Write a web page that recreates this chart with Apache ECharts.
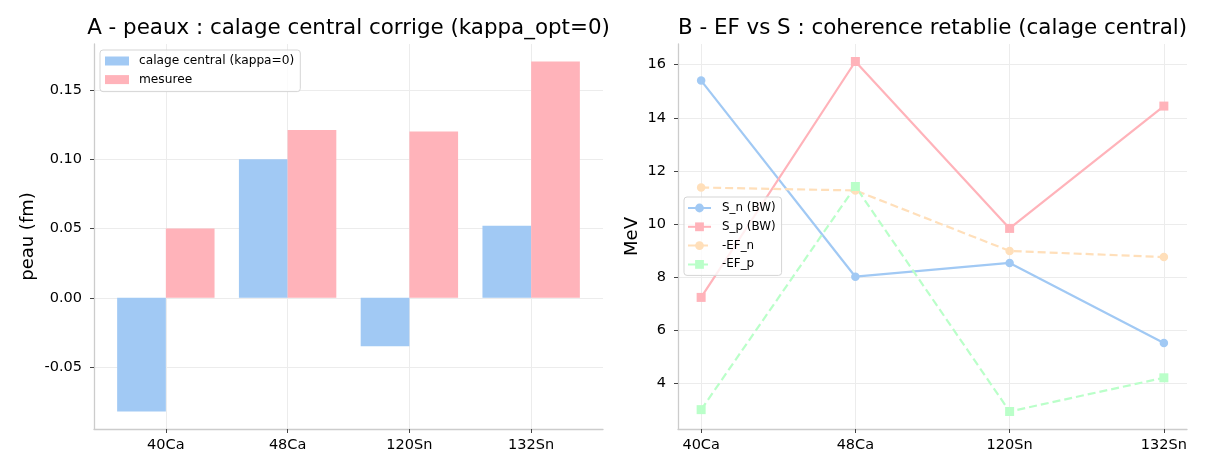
<!DOCTYPE html>
<html>
<head>
<meta charset="utf-8">
<script src="https://cdn.jsdelivr.net/npm/echarts@6/dist/echarts.min.js"></script>
<style>
  html, body { margin: 0; padding: 0; background: #fff; }
  #chart { width: 1210px; height: 473px; }
</style>
</head>
<body>
<div id="chart"></div>
<script>
// noyaux
var noyaux = ['40Ca', '48Ca', '120Sn', '132Sn'];
// A - peaux (fm)
var peauCalage = [-0.082, 0.100, -0.035, 0.052];
var peauMesuree = [0.050, 0.121, 0.120, 0.1705];
// B - energies (MeV)
var sN = [15.40, 8.01, 8.53, 5.51];
var sP = [7.23, 16.12, 9.83, 14.44];
var efN = [11.37, 11.26, 8.98, 8.75];
var efP = [3.00, 11.41, 2.93, 4.20];
// ticks
var ticksX = [0, 1, 2, 3];
var ticksPeau = [-0.05, 0, 0.05, 0.10, 0.15];
var ticksMeV = [4, 6, 8, 10, 12, 14, 16];

var FONT = 'DejaVu Sans';
var bleu = '#a1c9f4', rose = '#ffb3ba', peche = '#ffdfba', vert = '#baffc9';

function pts(arr) {
  return arr.map(function (v, i) { return [i, v]; });
}

var chart = echarts.init(document.getElementById('chart'), null, { renderer: 'canvas' });

var axeX = function (gi, min, max) {
  return {
    type: 'value', gridIndex: gi, min: min, max: max,
    axisLine: { show: true, onZero: false, lineStyle: { color: '#cccccc', width: 1.3 } },
    axisTick: { show: true, customValues: ticksX, length: 4, lineStyle: { color: '#444' } },
    axisLabel: {
      customValues: ticksX, margin: 9, fontSize: 14.5, fontFamily: FONT, color: '#000',
      formatter: function (v) { return noyaux[Math.round(v)]; }
    },
    splitLine: { show: true, lineStyle: { color: '#ececec', width: 1 } }
  };
};

var axeY = function (gi, min, max, ticks, fmt) {
  return {
    type: 'value', gridIndex: gi, min: min, max: max,
    axisLine: { show: true, onZero: false, lineStyle: { color: '#cccccc', width: 1.3 } },
    axisTick: { show: true, customValues: ticks, length: 4, lineStyle: { color: '#444' } },
    axisLabel: { customValues: ticks, margin: 12, fontSize: 14.5, fontFamily: FONT, color: '#000', formatter: fmt },
    splitLine: { show: true, lineStyle: { color: '#ececec', width: 1 } }
  };
};

var ligne = function (name, data, color, dashed, symbol) {
  return {
    name: name, type: 'line', xAxisIndex: 1, yAxisIndex: 1,
    data: pts(data), symbol: symbol, symbolSize: symbol === 'rect' ? 9 : 8.5,
    itemStyle: { color: color },
    lineStyle: { color: color, width: 2.2, type: dashed ? [8, 4] : 'solid' },
    emphasis: { disabled: true }
  };
};

var option = {
  backgroundColor: '#fff',
  animation: false,
  textStyle: { fontFamily: FONT },
  grid: [
    { left: 94, top: 44, width: 509, height: 385 },
    { left: 678, top: 44, width: 509, height: 385 }
  ],
  xAxis: [
    axeX(0, -0.59, 3.59),
    axeX(1, -0.15, 3.15)
  ],
  yAxis: [
    axeY(0, -0.094625, 0.183125, ticksPeau, function (v) {
      return (v < 0 ? '-' : '') + Math.abs(v).toFixed(2);
    }),
    axeY(1, 2.2705, 16.7795, ticksMeV, function (v) { return String(v); })
  ],
  legend: [
    {
      data: ['calage central (kappa=0)', 'mesuree'],
      orient: 'vertical', left: 100, top: 50, padding: [5, 6, 6, 5],
      itemWidth: 24, itemHeight: 9, itemGap: 6.6, icon: 'rect',
      backgroundColor: 'rgba(255,255,255,0.8)', borderColor: '#d5d5d5', borderWidth: 1, borderRadius: 3,
      textStyle: { fontSize: 12.2, fontFamily: FONT, color: '#000', padding: [0, 0, 0, 5] }
    },
    {
      data: ['S_n (BW)', 'S_p (BW)', '-EF_n', '-EF_p'],
      orient: 'vertical', left: 684, top: 197, padding: [5, 6, 5, 3],
      itemWidth: 23, itemHeight: 11, itemGap: 6.8,
      backgroundColor: 'rgba(255,255,255,0.8)', borderColor: '#d5d5d5', borderWidth: 1, borderRadius: 3,
      textStyle: { fontSize: 11.9, fontFamily: FONT, color: '#000', padding: [0, 0, 0, 6] }
    }
  ],
  graphic: [
    { type: 'text', x: 348.5, y: 28, style: { text: 'A - peaux : calage central corrige (kappa_opt=0)', fontSize: 21.4, fontFamily: FONT, fill: '#000', align: 'center', verticalAlign: 'middle' } },
    { type: 'text', x: 932.5, y: 28, style: { text: 'B - EF vs S : coherence retablie (calage central)', fontSize: 21.4, fontFamily: FONT, fill: '#000', align: 'center', verticalAlign: 'middle' } },
    { type: 'text', x: 28, y: 236.5, rotation: Math.PI / 2, style: { text: 'peau (fm)', fontSize: 18, fontFamily: FONT, fill: '#000', align: 'center', verticalAlign: 'middle' } },
    { type: 'text', x: 632, y: 236.5, rotation: Math.PI / 2, style: { text: 'MeV', fontSize: 18, fontFamily: FONT, fill: '#000', align: 'center', verticalAlign: 'middle' } }
  ],
  series: [
    {
      name: 'calage central (kappa=0)', type: 'bar', xAxisIndex: 0, yAxisIndex: 0,
      data: pts(peauCalage), barWidth: 48.7, barGap: '0%',
      itemStyle: { color: bleu }, emphasis: { disabled: true }
    },
    {
      name: 'mesuree', type: 'bar', xAxisIndex: 0, yAxisIndex: 0,
      data: pts(peauMesuree), barWidth: 48.7, barGap: '0%',
      itemStyle: { color: rose }, emphasis: { disabled: true }
    },
    ligne('S_n (BW)', sN, bleu, false, 'circle'),
    ligne('S_p (BW)', sP, rose, false, 'rect'),
    ligne('-EF_n', efN, peche, true, 'circle'),
    ligne('-EF_p', efP, vert, true, 'rect')
  ]
};

chart.setOption(option);
</script>
</body>
</html>
